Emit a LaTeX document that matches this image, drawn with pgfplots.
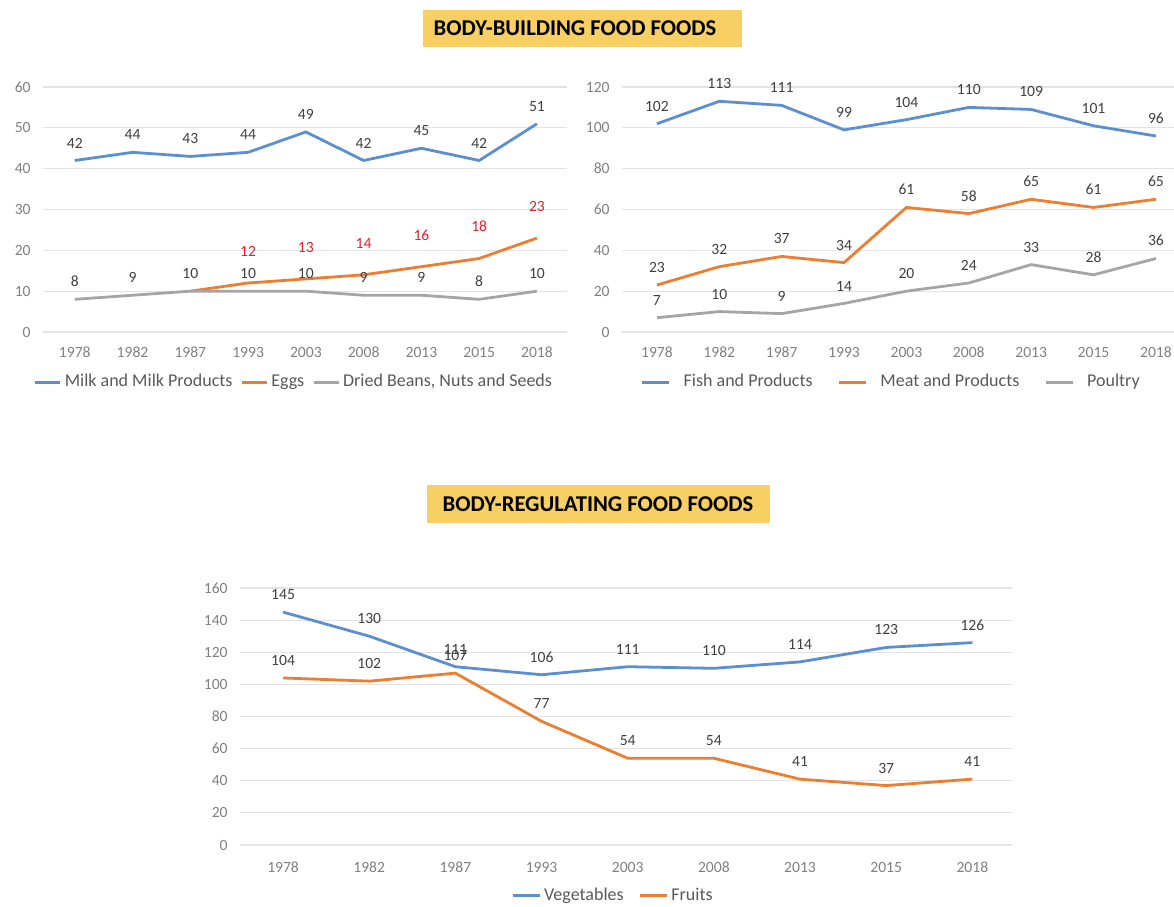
\documentclass[border=0pt]{standalone}
\usepackage{fontspec}
\setmainfont{Carlito}
\usepackage{pgfplots}
\pgfplotsset{compat=1.18}
\usepackage{pgfplotstable}

\definecolor{cblue}{HTML}{5B8FCF}
\definecolor{corange}{HTML}{ED7D31}
\definecolor{cgray}{HTML}{A5A5A5}
\definecolor{gridc}{HTML}{E3E3E3}
\definecolor{ticktxt}{HTML}{808080}
\definecolor{lbltxt}{HTML}{404040}
\definecolor{legtxt}{HTML}{595959}
\definecolor{titlebg}{HTML}{F8CF63}
\definecolor{eggred}{HTML}{E8202A}

\pgfkeys{/pgf/number format/assume math mode=true}

\pgfplotstableread{
x milk beans
0 42 8
1 44 9
2 43 10
3 44 10
4 49 10
5 42 9
6 45 9
7 42 8
8 51 10
}\tlA
\pgfplotstableread{
x eggs
2 10
3 12
4 13
5 14
6 16
7 18
8 23
}\tlEggs
\pgfplotstableread{
x fish meat poultry
0 102 23 7
1 113 32 10
2 111 37 9
3 99 34 14
4 104 61 20
5 110 58 24
6 109 65 33
7 101 61 28
8 96 65 36
}\tlB
\pgfplotstableread{
x veg fruit
0 145 104
1 130 102
2 111 107
3 106 77
4 111 54
5 110 54
6 114 41
7 123 37
8 126 41
}\tlC

\pgfplotsset{
  common/.style={
    scale only axis,
    axis line style={draw=none},
    major tick length=0pt,
    ymajorgrids,
    major grid style={gridc, line width=0.6pt},
    xtick={0,...,8},
    xticklabels={1978,1982,1987,1993,2003,2008,2013,2015,2018},
    tick label style={font=\fontsize{7.8}{9}\selectfont, text=ticktxt},
    xticklabel style={anchor=center, yshift=-10pt},
    yticklabel style={anchor=east, inner sep=0pt, xshift=-6pt},
    /pgf/number format/assume math mode=true,
    clip=false,
    legend style={draw=none, fill=none, font=\fontsize{9}{11}\selectfont, text=legtxt, anchor=center, legend columns=-1, nodes={inner sep=0.5pt}},
    every axis plot/.append style={line width=1.4pt, mark=none},
    nodes near coords style={font=\fontsize{7.8}{9}\selectfont, text=lbltxt, anchor=south, inner sep=0pt, yshift=5.5pt},
  }
}

\begin{document}
\begin{tikzpicture}
\useasboundingbox (0,0) rectangle (587pt,453pt);

% titles
\fill[titlebg] (211.5pt,429.5pt) rectangle (371pt,448pt);
\node[font=\bfseries\fontsize{11.3}{13}\selectfont, inner sep=0pt] at (287.5pt,438.75pt) {BODY-BUILDING FOOD FOODS};
\fill[titlebg] (213.5pt,191.5pt) rectangle (385pt,210.5pt);
\node[font=\bfseries\fontsize{11.3}{13}\selectfont, inner sep=0pt] at (299pt,201pt) {BODY-REGULATING FOOD FOODS};

% top-left
\begin{axis}[common,
  at={(21.5pt,287pt)}, anchor=south west,
  width=262pt, height=122.5pt,
  xmin=-0.55, xmax=8.52, ymin=0, ymax=60,
  ytick={0,10,...,60},
  legend style={at={(0.478,-0.205)}},
  legend image code/.code={\draw[#1] (0pt,0pt) -- (12.5pt,0pt);},
  legend style={/tikz/every odd column/.append style={column sep=1pt}, /tikz/every even column/.append style={column sep=3.5pt}},
]
\addplot[cblue, nodes near coords] table[x=x,y=milk]{\tlA};
\addlegendentry{Milk and Milk Products}
\addplot[corange] table[x=x,y=eggs]{\tlEggs};
\addlegendentry{Eggs}
\addplot[cgray, nodes near coords] table[x=x,y=beans]{\tlA};
\addlegendentry{Dried Beans, Nuts and Seeds}
\addplot[draw=none, forget plot, nodes near coords, skip coords between index={0}{1},
  nodes near coords style={text=eggred, yshift=7pt}] table[x=x,y=eggs]{\tlEggs};
\end{axis}

% top-right
\begin{axis}[common,
  at={(311pt,287pt)}, anchor=south west,
  width=276pt, height=122.5pt,
  xmin=-0.56, xmax=8.29, ymin=0, ymax=120,
  ytick={0,20,...,120},
  legend style={at={(0.487,-0.205)}},
  legend image code/.code={\draw[#1] (0pt,0pt) -- (13.5pt,0pt);},
  legend style={/tikz/every odd column/.append style={column sep=6pt}, /tikz/every even column/.append style={column sep=12pt}},
]
\addplot[cblue, nodes near coords] table[x=x,y=fish]{\tlB};
\addlegendentry{Fish and Products}
\addplot[corange, nodes near coords] table[x=x,y=meat]{\tlB};
\addlegendentry{Meat and Products}
\addplot[cgray, nodes near coords] table[x=x,y=poultry]{\tlB};
\addlegendentry{Poultry}
\end{axis}

% bottom
\begin{axis}[common,
  at={(120pt,30.5pt)}, anchor=south west,
  width=386pt, height=128.5pt,
  xmin=-0.5, xmax=8.46, ymin=0, ymax=160,
  ytick={0,20,...,160},
  xticklabel style={yshift=-1pt},
  legend style={at={(0.4825,-0.198)}},
  legend image code/.code={\draw[#1] (0pt,0pt) -- (13.5pt,0pt);},
  legend style={/tikz/every odd column/.append style={column sep=1pt}, /tikz/every even column/.append style={column sep=7pt}},
]
\addplot[cblue, nodes near coords] table[x=x,y=veg]{\tlC};
\addlegendentry{Vegetables}
\addplot[corange, nodes near coords] table[x=x,y=fruit]{\tlC};
\addlegendentry{Fruits}
\end{axis}
\end{tikzpicture}
\end{document}
